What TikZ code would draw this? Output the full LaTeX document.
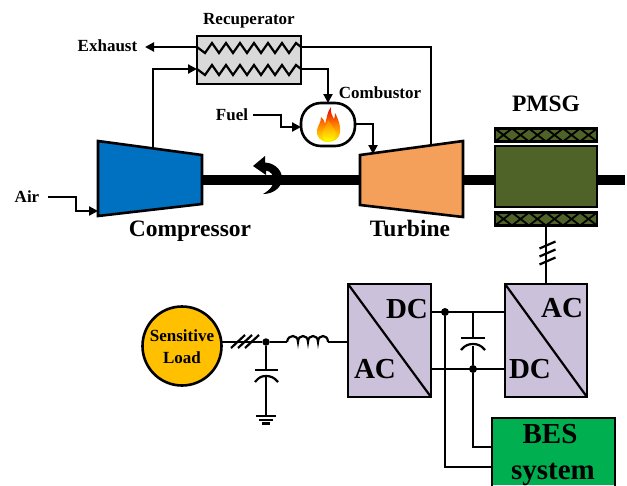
\documentclass[tikz,border=0pt]{standalone}
\usepackage{fontspec}
\setmainfont{Liberation Serif}
\usetikzlibrary{arrows.meta,calc}
\definecolor{cblue}{HTML}{0070C0}
\definecolor{torange}{HTML}{F4A05A}
\definecolor{gengreen}{HTML}{4F6228}
\definecolor{convlil}{HTML}{CCC1DA}
\definecolor{besgreen}{HTML}{00B050}
\definecolor{loadgold}{HTML}{FFC000}
\definecolor{recgray}{HTML}{D9D9D9}
\tikzset{
  wire/.style={line width=2.2pt,line join=miter},
  flow/.style={wire,-{Triangle[length=9pt,width=9pt]}},
  body/.style={draw=black,line width=2.6pt,line join=miter},
  box/.style={body,rectangle,inner sep=0pt,outer sep=0pt},
  lbl/.style={inner sep=0pt,text=black,align=center},
  small/.style={lbl,font=\bfseries\fontsize{17}{17}\selectfont},
  mid/.style={lbl,font=\bfseries\fontsize{23.5}{23.5}\selectfont},
  big/.style={lbl,font=\bfseries\fontsize{29}{29}\selectfont},
  dot/.style={circle,fill=black,inner sep=0pt,minimum size=8pt},
  plate/.style={line width=2.2pt}
}
\begin{document}
\begin{tikzpicture}[x=1pt,y=-1pt]
\useasboundingbox (0,0) rectangle (627,485);
% shaft
\node[rectangle,fill=black,minimum width=423pt,minimum height=10.5pt,inner sep=0pt] (shaft) at (413.5,180) {};
% rotation arrow
\fill (253,166) -- (265,156) -- (265,162.5) .. controls (276,163) and (283,172) .. (282,180)
  .. controls (281,188) and (273,194) .. (263,194)
  .. controls (270,190) and (274,185) .. (274,180)
  .. controls (274,175) and (270,171) .. (266,170.5) -- (266,175) -- cycle;
% compressor and turbine
\draw[body,fill=cblue] (98,141) -- (202,155) -- (202,204) -- (98,216) -- cycle;
\draw[body,fill=torange] (360,155) -- (463,141) -- (463,217) -- (360,205) -- cycle;
\coordinate (compin) at (98,211);
\coordinate (compout) at (153,148);
\coordinate (turbin) at (373,154);
\coordinate (turbout) at (431,146);
\coordinate (airstart) at (48,197);
% generator
\node[box,fill=gengreen,minimum width=102pt,minimum height=61pt] (core) at (546,176.5) {};
\node[box,fill=gengreen,minimum width=102pt,minimum height=13pt] (stattop) at (546,135) {};
\node[box,fill=gengreen,minimum width=102pt,minimum height=13pt] (statbot) at (546,219) {};
\foreach \n in {stattop,statbot}{
  \draw[line width=1.8pt] (\n.south west) -- ++(17,-13) -- ++(17,13) -- ++(17,-13) -- ++(17,13) -- ++(17,-13) -- ++(17,13);
  \draw[line width=1.8pt] (\n.north west) -- ++(17,13) -- ++(17,-13) -- ++(17,13) -- ++(17,-13) -- ++(17,13) -- ++(17,-13);
}
% recuperator
\node[box,fill=recgray,minimum width=104pt,minimum height=48pt] (rec) at (249,60) {};
\coordinate (recAl) at (197,47); \coordinate (recAr) at (301,47);
\coordinate (recBl) at (197,69); \coordinate (recBr) at (301,69);
\foreach \a/\b in {recAl/recAr,recBl/recBr}{
  \draw[line width=2.2pt] (\a) -- ++(8,6) -- ++(7,-10) -- ++(7,10) -- ++(7,-10) -- ++(7,10) -- ++(7,-10) -- ++(7,10) -- ++(7,-10) -- ++(7,10) -- ++(7,-10) -- ++(7,10) -- ++(7,-10) -- ++(7,10) -- ++(7,-10) -- (\b);
}
% combustor
\node[box,fill=white,rounded corners=20pt,minimum width=54pt,minimum height=43pt] (comb) at (328,124.5) {};
\shade[top color=red!90!black,bottom color=yellow!90!orange,middle color=orange] (328,142) .. controls (320,142) and (316,136) .. (317,130)
  .. controls (318,125) and (321,123) .. (321,117) .. controls (324,120) and (325,122) .. (325,124)
  .. controls (327,118) and (327,112) .. (331,107) .. controls (330,112) and (332,115) .. (334,119)
  .. controls (335,117) and (335,115) .. (335,113) .. controls (339,120) and (341,128) .. (340,133)
  .. controls (339,139) and (334,142) .. (328,142) -- cycle;
\shade[top color=orange,bottom color=yellow] (328,141) .. controls (323,141) and (321,136) .. (323,131)
  .. controls (325,127) and (327,125) .. (328,120) .. controls (331,125) and (335,128) .. (336,133)
  .. controls (336,138) and (332,141) .. (328,141) -- cycle;
% converters
\node[box,fill=convlil,minimum width=83pt,minimum height=113pt] (conva) at (389.5,340.5) {};
\node[box,fill=convlil,minimum width=82pt,minimum height=113pt] (convb) at (546,340.5) {};
\draw[wire] (conva.north west) -- (conva.south east);
\draw[wire] (convb.north west) -- (convb.south east);
\node[big] (dca) at (407,309) {DC};
\node[big] (aca) at (375,369) {AC};
\node[big] (acb) at (562,308) {AC};
\node[big] (dcb) at (530,369) {DC};
% BES
\path[fill=besgreen] (492,418) rectangle (615,485);
\draw[body] (492,490) -- (492,418) -- (615,418) -- (615,490);
\node[big] (bes) at (550,434) {BES};
\node[big,anchor=base] (bessys) at (553,479) {system};
% load
\node[circle,body,fill=loadgold,minimum size=79pt,inner sep=0pt,outer sep=0pt] (load) at (182,346) {};
\node[lbl,font=\bfseries\fontsize{17}{21.5}\selectfont] (loadtxt) at (182,346.5) {Sensitive\\Load};
% flow connectors
\draw[flow] (airstart) -| (76,204) |- (compin);
\draw[flow] (compout) |- (recBl);
\draw[flow] (recAl) -- (145,47);
\draw[wire] (recAr) -| (turbout);
\draw[flow] (recBr) -| (comb.north);
\coordinate (fuelstart) at (253,115);
\draw[flow] (fuelstart) -| (281,121) |- (comb.west |- 0,127);
\draw[flow] (comb.east |- 0,124) -| (turbin);
% PMSG link
\draw[wire] (statbot.south) -- (convb.north);
\foreach \yy in {245,253,261}{\draw[wire] (539.5,\yy+3.5) -- (555.5,\yy-3.5);}
% DC bus
\coordinate (busUa) at (conva.east |- 0,312); \coordinate (busUb) at (convb.west |- 0,312);
\coordinate (busLa) at (conva.east |- 0,369); \coordinate (busLb) at (convb.west |- 0,369);
\draw[wire] (busUa) -- (busUb);
\draw[wire] (busLa) -- (busLb);
\node[dot] (dotU) at (445,312) {};
\node[dot] (dotL) at (473,369) {};
\coordinate (besU) at (492,447); \coordinate (besL) at (492,467);
\draw[wire] (dotU) |- (besL);
\draw[wire] (dotL) |- (besU);
\coordinate (capU) at (473,312);
\draw[wire] (capU) -- (473,338);
\draw[wire] (473,346) -- (dotL);
\draw[plate] (461,338) -- (485,338);
\draw[plate] (461,350) .. controls (465,345) and (469,344) .. (473,344) .. controls (477,344) and (481,345) .. (485,350);
% AC side
\coordinate (lacL) at (287,342); \coordinate (lacR) at (328,342);
\node[dot,minimum size=7.5pt] (dotac) at (266,342) {};
\draw[wire] (load.east |- 0,342) -- (dotac) -- (lacL);
\draw[wire] (lacL) .. controls (288,334) and (298,334) .. (298,342)
  .. controls (298,334) and (308,334) .. (308,342)
  .. controls (308,334) and (318,334) .. (318,342)
  .. controls (318,334) and (328,334) .. (328,342);
\draw[wire] (lacR) -- (conva.west |- 0,342);
\foreach \xx in {238,245,252}{\draw[wire] (\xx-7,348) -- (\xx+7,335);}
\draw[wire] (dotac) -- (266,370);
\draw[plate] (255,370) -- (278,370);
\draw[plate] (255,382) .. controls (259,377) and (262,376) .. (266,376) .. controls (270,376) and (274,377) .. (278,382);
\coordinate (gnd) at (266,416);
\draw[wire] (266,376) -- (gnd);
\draw[wire] (256,416) -- (276,416);
\draw[wire] (259,420) -- (273,420);
\draw[wire] (262,423.5) -- (270,423.5);
% labels
\node[small] (lrec) at (249,20.5) {Recuperator};
\node[small] (lexh) at (107.5,46) {Exhaust};
\node[small] (lcomb) at (380,92.5) {Combustor};
\node[small] (lfuel) at (232,114.5) {Fuel};
\node[small] (lair) at (27,196.5) {Air};
\node[mid,anchor=base] (lcompr) at (190,236) {Compressor};
\node[mid,anchor=base] (lturb) at (410,236) {Turbine};
\node[mid] (lpmsg) at (546,104) {PMSG};
\end{tikzpicture}
\end{document}
